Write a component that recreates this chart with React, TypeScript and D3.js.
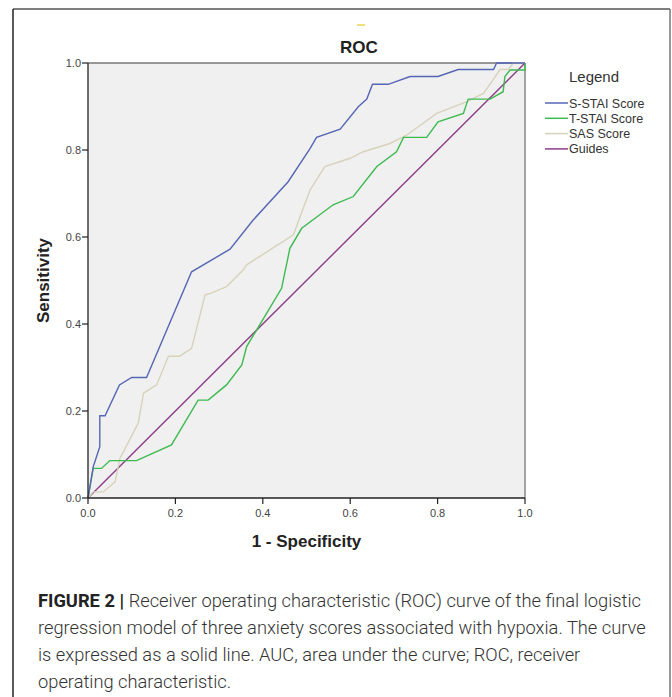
import React from "react";
import { scaleLinear, line } from "d3";

// ROC curve points, [1 - specificity, sensitivity]
const sStai: [number, number][] = [
  [0, 0], [0.012, 0.072], [0.027, 0.118], [0.027, 0.189], [0.039, 0.189],
  [0.072, 0.26], [0.1, 0.277], [0.134, 0.277], [0.237, 0.52], [0.325, 0.572],
  [0.378, 0.639], [0.458, 0.727], [0.508, 0.803], [0.523, 0.829], [0.577, 0.848],
  [0.619, 0.9], [0.638, 0.917], [0.651, 0.951], [0.687, 0.951], [0.737, 0.969],
  [0.801, 0.969], [0.847, 0.985], [0.928, 0.985], [0.935, 1], [1, 1],
];
const tStai: [number, number][] = [
  [0, 0], [0.012, 0.068], [0.031, 0.068], [0.05, 0.086], [0.111, 0.086],
  [0.191, 0.122], [0.252, 0.225], [0.275, 0.225], [0.317, 0.26], [0.352, 0.306],
  [0.363, 0.348], [0.397, 0.405], [0.443, 0.482], [0.462, 0.574], [0.489, 0.62],
  [0.561, 0.674], [0.607, 0.693], [0.661, 0.762], [0.706, 0.796], [0.722, 0.829],
  [0.775, 0.829], [0.801, 0.865], [0.859, 0.884], [0.87, 0.917], [0.92, 0.917],
  [0.95, 0.934], [0.954, 0.969], [0.966, 0.984], [1, 0.984], [1, 1],
];
const sas: [number, number][] = [
  [0, 0], [0.012, 0.014], [0.035, 0.014], [0.062, 0.037], [0.073, 0.091],
  [0.115, 0.172], [0.127, 0.241], [0.157, 0.26], [0.184, 0.326], [0.21, 0.326],
  [0.237, 0.344], [0.268, 0.467], [0.279, 0.47], [0.317, 0.486], [0.355, 0.524],
  [0.363, 0.536], [0.47, 0.605], [0.508, 0.708], [0.542, 0.762], [0.6, 0.781],
  [0.63, 0.796], [0.691, 0.815], [0.729, 0.834], [0.798, 0.884], [0.867, 0.911],
  [0.905, 0.93], [0.924, 0.957], [0.943, 0.985], [0.962, 0.985], [0.973, 1], [1, 1],
];
const guides: [number, number][] = [[0, 0], [1, 1]];

const ticks = [0, 0.2, 0.4, 0.6, 0.8, 1.0];
const legendLabels = ["S-STAI Score", "T-STAI Score", "SAS Score", "Guides"];
const colors = ["#5566b4", "#3dba50", "#d8d2ba", "#8c3c88"];

const captionLines = [
  "Receiver operating characteristic (ROC) curve of the final logistic",
  "regression model of three anxiety scores associated with hypoxia. The curve",
  "is expressed as a solid line. AUC, area under the curve; ROC, receiver",
  "operating characteristic.",
];

export default function App() {
  const x = scaleLinear().domain([0, 1]).range([88, 525]);
  const y = scaleLinear().domain([0, 1]).range([498, 63]);
  const path = line<[number, number]>()
    .x((d) => x(d[0]))
    .y((d) => y(d[1]));

  const series = [sStai, tStai, sas, guides];
  // draw order: guides under the curves
  const drawOrder = [3, 2, 1, 0];

  const tickFont = "'Liberation Sans', Arial, sans-serif";

  return (
    <svg
      width={672}
      height={697}
      style={{ position: "absolute", left: 0, top: 0, background: "#fff" }}
    >
      {/* outer frame */}
      <line x1={13} y1={9} x2={670} y2={9} stroke="#555" strokeWidth={1.5} />
      <line x1={13} y1={9} x2={13} y2={697} stroke="#222" strokeWidth={1.5} />
      <line x1={670} y1={9} x2={670} y2={697} stroke="#777" strokeWidth={1.5} />

      {/* little mark above the title */}
      <line x1={357} y1={25} x2={365} y2={25} stroke="#f2de7a" strokeWidth={2} />
      <text
        x={x(0.62)}
        y={53}
        textAnchor="middle"
        fontFamily={tickFont}
        fontWeight="bold"
        fontSize={17}
        fill="#222"
      >
        ROC
      </text>

      {/* plot background */}
      <rect x={x(0)} y={y(1)} width={x(1) - x(0)} height={y(0) - y(1)} fill="#f0f0f0" />
      <line x1={x(0)} y1={y(1)} x2={x(1)} y2={y(1)} stroke="#777" strokeWidth={1.5} />
      <line x1={x(1)} y1={y(1)} x2={x(1)} y2={y(0)} stroke="#888" strokeWidth={1.5} />

      {drawOrder.map((i) => (
        <path
          key={legendLabels[i]}
          d={path(series[i]) || ""}
          fill="none"
          stroke={colors[i]}
          strokeWidth={1.4}
        />
      ))}

      {/* axes */}
      <line x1={x(0)} y1={y(1)} x2={x(0)} y2={y(0)} stroke="#222" strokeWidth={1.3} />
      <line x1={x(0)} y1={y(0)} x2={x(1)} y2={y(0)} stroke="#222" strokeWidth={1.3} />
      {ticks.map((t) => (
        <g key={"y" + t}>
          <line x1={x(0) - 6} x2={x(0)} y1={y(t)} y2={y(t)} stroke="#222" strokeWidth={1.2} />
          <text
            x={x(0) - 7}
            y={y(t) + 4}
            textAnchor="end"
            fontFamily={tickFont}
            fontSize={11}
            fill="#444"
          >
            {t.toFixed(1)}
          </text>
        </g>
      ))}
      {ticks.map((t) => (
        <g key={"x" + t}>
          <line x1={x(t)} x2={x(t)} y1={y(0)} y2={y(0) + 6} stroke="#222" strokeWidth={1.2} />
          <text
            x={x(t)}
            y={y(0) + 19}
            textAnchor="middle"
            fontFamily={tickFont}
            fontSize={11}
            fill="#444"
          >
            {t.toFixed(1)}
          </text>
        </g>
      ))}

      <text
        x={x(0.5)}
        y={547}
        textAnchor="middle"
        fontFamily={tickFont}
        fontWeight="bold"
        fontSize={17}
        fill="#222"
      >
        1 - Specificity
      </text>
      <text
        transform={`translate(49, ${y(0.5)}) rotate(-90)`}
        textAnchor="middle"
        fontFamily={tickFont}
        fontWeight="bold"
        fontSize={17}
        fill="#222"
      >
        Sensitivity
      </text>

      {/* legend */}
      <text x={594} y={82} textAnchor="middle" fontFamily={tickFont} fontSize={15} fill="#333">
        Legend
      </text>
      {legendLabels.map((lab, i) => (
        <g key={lab} transform={`translate(545, ${103 + i * 15.3})`}>
          <line x1={0} x2={23} y1={0} y2={0} stroke={colors[i]} strokeWidth={1.5} />
          <text x={24} y={4.5} fontFamily={tickFont} fontSize={12.5} fill="#333">
            {lab}
          </text>
        </g>
      ))}

      {/* caption */}
      {captionLines.map((l, i) => (
        <text
          key={i}
          x={38}
          y={607 + i * 27}
          fontFamily="Roboto, 'Liberation Sans', sans-serif"
          fontWeight={300}
          fontSize={18.3}
          fill="#333"
        >
          {i === 0 && (
            <tspan fontWeight="bold" fill="#222">
              FIGURE 2 |{" "}
            </tspan>
          )}
          {l}
        </text>
      ))}
    </svg>
  );
}
